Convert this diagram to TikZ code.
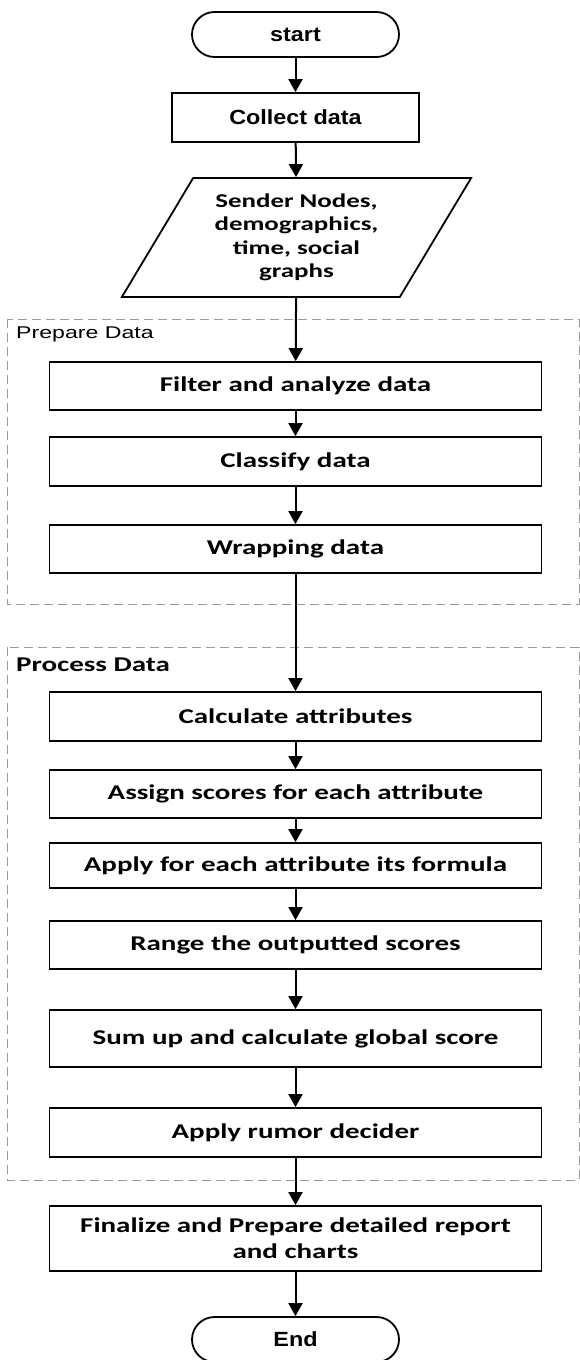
\documentclass[tikz,border=0pt]{standalone}
\usepackage{fontspec}
\setmainfont{Carlito}[FakeStretch=1.38]
\newfontfamily\arialfont{Liberation Sans}[FakeStretch=1.14]
\newfontfamily\arialwide{Liberation Sans}[FakeStretch=1.36]
\usetikzlibrary{arrows.meta,shapes.geometric}
\colorlet{groupLine}{black!40}

\begin{document}
\begin{tikzpicture}[
  x=1pt, y=-1pt,
  every node/.style={
    line width=1.8pt,
    align=center,
    font=\bfseries\fontsize{21}{26}\selectfont,
  },
  terminal/.style={
    draw, rectangle, rounded corners=22.5pt,
    minimum width=207pt, minimum height=45pt,
    font=\arialfont\bfseries\fontsize{20.5}{24}\selectfont,
  },
  process/.style={
    draw, rectangle, minimum width=492pt,
  },
  data/.style={
    draw, trapezium, trapezium stretches=true,
    trapezium left angle=58, trapezium right angle=122,
    minimum width=350pt, minimum height=119pt,
    font=\bfseries\fontsize{19.5}{23.5}\selectfont,
  },
  group/.style={
    draw=groupLine, line width=1pt, dash pattern=on 9pt off 5pt,
  },
  flow/.style={
    line width=2pt, -{Triangle[width=14pt,length=13pt]},
  }
]
\useasboundingbox (0,0) rectangle (579,1360);

% dashed groups
\draw[group] (7,319) rectangle (579,604);
\node[anchor=west, font=\arialwide\fontsize{17}{20}\selectfont] (prepLabel) at (12,334) {Prepare Data};
\draw[group] (7,647) rectangle (579,1180);
\node[anchor=west, font=\bfseries\fontsize{21}{24}\selectfont] (procLabel) at (12,665) {Process Data};

\node[terminal] (start) at (295.5,34.5) {start};
\node[process, minimum width=247pt, minimum height=49pt,
  font=\arialfont\bfseries\fontsize{20.5}{24}\selectfont] (collect) at (295.5,117.5) {Collect data};
\node[data] (input) at (296.5,237.5) {Sender Nodes,\\demographics,\\time, social\\graphs};

\foreach \name/\y/\h/\txt in {
  filter/386/48/{Filter and analyze data},
  classify/461.5/49/{Classify data},
  wrap/549/48/{Wrapping data},
  calc/716.5/49/{Calculate attributes},
  assign/794/48/{Assign scores for each attribute},
  formula/865.5/45/{Apply for each attribute its formula},
  range/945/48/{Range the outputted scores},
  sum/1038.5/57/{Sum up and calculate global score},
  decide/1132.5/49/{Apply rumor decider},
  final/1238.5/65/{Finalize and Prepare detailed report\\and charts}} {
  \node[process, minimum height=\h pt] (\name) at (295.5,\y) {\txt};
}

\node[terminal] (stop) at (295.5,1339.5) {End};

\foreach \a/\b in {start/collect, collect/input, input/filter, filter/classify,
  classify/wrap, wrap/calc, calc/assign, assign/formula, formula/range,
  range/sum, sum/decide, decide/final, final/stop} {
  \draw[flow] (\a) -- (\b);
}
\end{tikzpicture}
\end{document}
